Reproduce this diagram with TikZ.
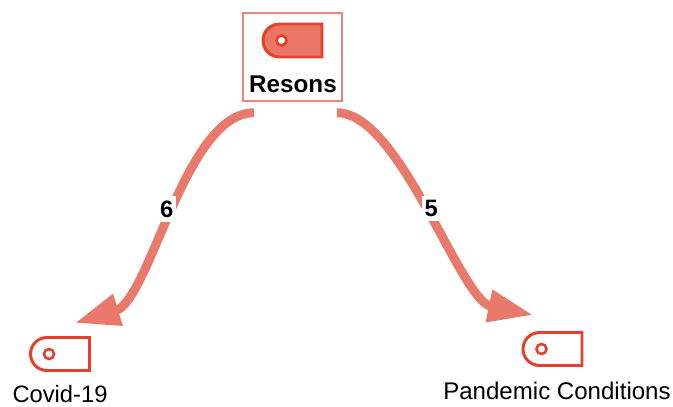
\documentclass[tikz,border=0pt]{standalone}
\usepackage{fontspec}
\setmainfont{Liberation Sans}
\usetikzlibrary{arrows.meta}
\definecolor{linkred}{RGB}{233,122,107}
\definecolor{tagred}{RGB}{228,64,44}
\definecolor{tagfill}{RGB}{234,118,102}
\definecolor{boxred}{RGB}{233,135,118}

\begin{document}
\begin{tikzpicture}[x=0.02cm, y=-0.02cm,
  link/.style={line width=5.1pt, linkred, -{Triangle[length=25.6pt,width=17.6pt]}},
  weight/.style={fill=white, inner xsep=1.5pt, inner ysep=2.5pt, text=black,
    font=\fontsize{13.5}{16}\selectfont\bfseries},
  caption/.style={anchor=base, font=\fontsize{13.5}{16}\selectfont},
  tagicon/.pic={
    \draw[tagred, line width=1.7pt, fill=#1] (29.5,-16.5) [rounded corners=0.33cm]
      -- (-29.5,-16.5) -- (-29.5,16.5) [sharp corners] -- (29.5,16.5) -- cycle;
    \draw[tagred, line width=1.5pt, fill=white] (-11,0) circle (5);
  }]
  \useasboundingbox (0,0) rectangle (673,406);

  % source
  \node[draw=boxred, line width=0.85pt, minimum width=1.98cm, minimum height=1.76cm] (resons) at (292.5,57) {};
  \pic at (292.5,40.5) {tagicon=tagfill};
  \node[caption, font=\fontsize{13.8}{16}\selectfont\bfseries] (resonstext) at (293,92) {Resons};

  % targets
  \pic at (60,354) {tagicon=white};
  \node[caption] (covid) at (60,402) {Covid-19};
  \pic at (552.5,349) {tagicon=white};
  \node[caption, font=\fontsize{13.7}{16}\selectfont] (pandemic) at (557,399) {Pandemic Conditions};

  \coordinate (covidtip) at (75,323);
  \coordinate (pandemictip) at (533,315);

  \draw[link] ([shift={(-38.5,11)}]resons.south) .. controls +(-69,0) and +(75,-23) .. (covidtip)
    node[weight, pos=0.5] {6};
  \draw[link] ([shift={(44.5,11)}]resons.south) .. controls +(63,0) and +(-73,-15) .. (pandemictip)
    node[weight, pos=0.5] {5};

\end{tikzpicture}
\end{document}
